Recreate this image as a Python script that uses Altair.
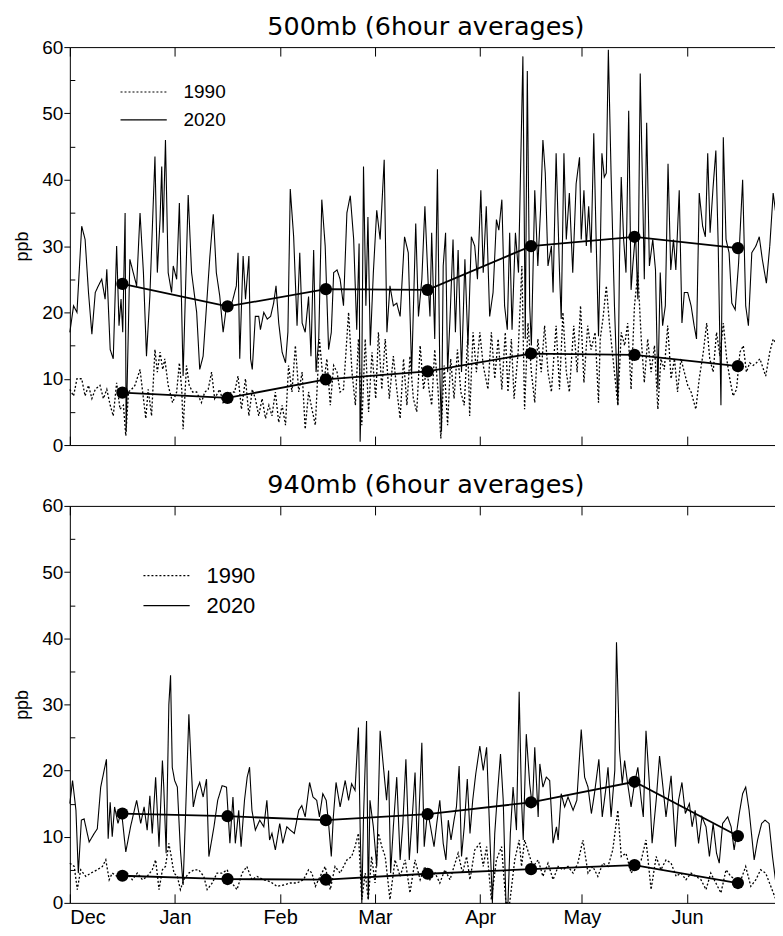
import altair as alt
import pandas as pd

FONT = "Liberation Sans"
TITLE_FONT = "DejaVu Sans"

MONTH_LABELS = ["Dec", "Jan", "Feb", "Mar", "Apr", "May", "Jun"]
MONTH_START_DAY = [0, 31, 62, 90, 121, 151, 182]
X_DOMAIN = [0, 210]
Y_TICKS = [0, 10, 20, 30, 40, 50, 60]
Y_MINOR = [5, 15, 25, 35, 45, 55]
YEARS = ["1990", "2020"]

# monthly means (dots)
MEAN_DAY = [15.5, 46.5, 75.5, 105.5, 136, 166.5, 197]
TOP_MEAN_2020 = [24.3, 20.9, 23.5, 23.4, 30.0, 31.4, 29.7]
TOP_MEAN_1990 = [7.9, 7.1, 9.9, 11.1, 13.8, 13.6, 11.9]
BOT_MEAN_2020 = [13.5, 13.1, 12.5, 13.4, 15.2, 18.3, 10.1]
BOT_MEAN_1990 = [4.1, 3.6, 3.5, 4.4, 5.1, 5.7, 3.0]

# 500mb series: (day since Dec 1, ppb)
TOP_2020 = [(0,17),(1.1,21),(2.1,20),(3.5,33),(4.5,31),(5.5,23),(6.5,16.7),(7.5,23),(8.4,24),(9.4,25),(10.4,22),(10.9,26.5),(11.9,14.4),(12.8,13),(13.8,30),(14.5,18),(15.1,22),(15.6,17),(16.3,35),(16.6,2),(17.7,28),(18.7,26),(19.7,24),(20.7,35),(21.7,26),(22.6,13.4),(23.6,22.5),(25.1,43.5),(25.8,26),(26.6,34),(27.1,42),(27.5,32),(28.2,46),(29,26),(30,23),(30.5,27),(31.5,25),(32.3,36.5),(33.4,10.4),(34.9,37.7),(35.9,26),(37.4,20),(38.3,11.4),(39.3,13.4),(41.3,28.5),(42.3,34.8),(43.2,26),(44.2,22.5),(45.2,17),(46.2,21),(47.2,20.5),(48.1,22),(49.1,24),(49.6,29),(50.1,13),(51.1,28.5),(51.8,22),(52.8,28.5),(53.3,13),(53.8,11.4),(54.7,19.4),(55.7,19.4),(56.2,17.4),(57.2,20),(58.2,19),(59.2,19.4),(60.1,21.4),(60.8,24),(61.6,18.4),(62.6,14),(63.6,12.4),(64.3,17),(65,38.6),(66,31.4),(67,18),(67.8,29),(68.5,18.4),(69.4,17),(70.4,22.4),(71.1,13.4),(71.9,29.4),(72.6,11),(73.4,16),(74.3,37),(75.3,30),(76.3,14.4),(77.1,17),(77.8,26),(78.8,26.4),(79.7,25),(80.7,21),(81.7,35),(82.7,37.6),(83.7,31),(84.6,17.4),(85.3,30.4),(85.6,0.5),(86.1,11),(86.6,42),(87.3,21),(87.9,34.4),(88.6,15),(89.5,26),(90.5,35.4),(91.5,31),(92.7,43),(93.5,17),(94.4,24),(95.4,21),(96.4,21.4),(97.4,19.4),(98.7,31.4),(99.8,29),(100.8,11),(102,33.4),(102.8,19.4),(103.8,25),(104.7,36),(105.7,24),(106.2,19.4),(106.7,32),(107.6,16),(108.4,41.6),(109.1,11),(109.6,2),(110.1,27),(110.8,32),(111.4,11),(112.1,19),(113,31),(113.7,17),(114.5,29.4),(115.5,11),(116.5,28),(117.4,15),(118.4,31.4),(119.4,30),(120.2,25),(121.2,38.4),(121.9,26),(122.8,36),(123.8,19.4),(124.8,23),(125.8,34),(126.5,32.4),(127.4,37),(128.2,21),(129,17.4),(129.7,32),(130.4,17.4),(131.4,32),(132.3,26),(133.6,58.6),(134.3,16),(134.9,56.4),(135.6,21),(136.1,15),(137.1,38.4),(138,27),(138.8,35.4),(139.5,46),(140.2,41),(141,27),(142,30),(142.5,23),(143.4,44),(144.4,26),(144.9,19),(145.7,44),(146.4,31),(147.3,38),(148.3,26),(149.3,39.4),(150.3,43.4),(150.8,31),(151.6,38.4),(152.3,30),(153,36),(153.7,29),(154.5,47),(155.2,31),(155.9,16.4),(156.4,28.4),(156.9,44),(157.6,40.4),(158.2,41),(158.8,59.6),(159.6,41),(160.6,21),(161.6,6),(162.1,28.4),(162.6,40.4),(163.3,31),(164,26),(164.8,50.4),(165.5,23.4),(166,27),(166.8,32),(167.5,22),(168.2,56),(169,36),(169.4,25),(170.1,48.6),(170.9,27),(171.9,31),(172.7,26.4),(173.4,8.4),(174.1,26),(174.8,18),(175.6,21),(176.4,42.4),(177.2,26.4),(178,31),(178.7,26.4),(179.7,38.4),(180.5,18.4),(181.2,23),(182.2,23),(183.2,21),(184.1,18),(184.8,16),(185.6,38),(186.6,33),(187.4,31.4),(188.1,44),(188.8,32),(189.7,39),(190.5,44.4),(191.2,30),(192,6),(192.7,46.4),(193.5,31),(194.4,29),(195.2,21.4),(196.2,20.4),(197.2,27.4),(198.4,40),(199.3,21),(200.1,18),(201.1,29),(202.3,30),(203.3,31.4),(204.2,28),(205.4,24.4),(206.4,30),(207.4,38),(208.4,34),(209.1,31),(210,39)]

TOP_1990 = [(0,8.4),(1.1,7.4),(2.1,10),(3.5,10),(4.5,7.4),(5.5,9),(6.5,7),(7.5,8.4),(8.9,9),(9.9,7),(10.9,8.4),(11.9,6),(12.8,4.4),(13.8,9.4),(14.8,5.4),(15.8,6),(16.5,1.4),(17.3,8),(18.2,8.4),(19.2,9),(20.7,11.4),(21.7,7),(22.4,4),(23.1,8.4),(24.1,4.4),(25.1,14.4),(25.8,11),(26.6,14),(27.4,11.4),(28,13),(29,9),(30.3,6.4),(31.5,8),(32.3,12.4),(33,8.4),(33.4,2.4),(34.4,12),(35.2,9),(36.2,8),(37.4,8),(38.8,6.4),(39.8,8),(40.8,8.4),(41.8,11),(42.7,7),(44.2,8.4),(45.2,6.4),(46.2,7),(47.6,8),(48.6,8),(49.6,10.4),(50.6,5.4),(51.8,10),(52.8,4.4),(53.8,8.4),(54.7,7),(55.7,4.4),(56.7,7),(57.7,4),(58.7,6),(59.6,4.4),(60.6,8),(61.6,3.4),(62.6,6),(63.6,3),(64.5,12),(65.5,8),(66.5,15),(67.5,8),(68.5,11),(69.4,2.4),(70.4,8),(71.4,5.4),(72.4,3),(73.6,16),(74.8,9),(75.8,13),(76.8,6),(77.8,12),(78.8,11),(79.7,8),(80.7,8.4),(82.2,20),(83.2,11),(84.2,6),(85.1,16),(86.1,3),(87.1,16),(88.1,5),(89.1,14),(90.2,7),(91,17),(92,8.4),(93,16),(94.2,7),(95.4,13.4),(96.4,8.4),(97.4,4),(98.4,13),(99.4,6),(100.3,13.4),(101.3,7),(102.3,5),(103.3,15),(104.3,8.4),(105.3,12),(105.9,8.4),(106.7,6),(107.6,14.4),(108.6,8),(109.4,1),(110.4,12),(111.4,3),(112.3,13),(113.3,7),(114.3,14.4),(115.3,8),(116.3,6),(117.3,16),(117.9,4.4),(118.9,17),(119.9,11),(120.9,17),(121.9,12),(123.3,8.4),(124.3,17),(125.3,10),(126.3,16),(127.4,8.4),(128.4,17),(129.2,8),(130.2,16),(131,7),(132.2,14),(133.3,27),(134.1,5.4),(135.1,18.4),(136.1,11),(137.1,6.4),(138,16),(139,11),(140,18),(141,11),(142,8),(143.4,18),(144.4,8.4),(145.4,20),(146.4,11),(147.3,8),(148.6,18),(149.6,11),(150.6,21),(151.6,9.4),(152.7,18),(153.7,14.4),(154.9,17),(155.9,6.4),(156.4,16),(157.2,19),(158.2,24),(159.1,18.4),(160.1,13.4),(161.6,6),(162.6,17),(163.6,15),(164.5,18.4),(165.5,8.4),(166.5,21),(167.5,26),(168.5,16),(169.4,9.4),(170.4,16),(171.4,11),(172.4,15),(173.4,5.4),(174.3,13),(175.3,11.4),(176.3,18),(177.3,10),(178.3,13),(179.2,8),(180.2,13),(181.2,11),(182.2,9),(183.2,8),(184.6,5.4),(185.6,10),(186.8,14),(187.8,18.4),(188.7,13),(189.7,11),(190.7,17),(191.7,13.4),(192.7,18.4),(193.7,13),(194.6,10),(195.6,7.4),(196.6,8.4),(197.6,14),(198.6,15),(199.5,11),(200.5,12.4),(201.5,12),(202.5,12.4),(203.5,13),(205.2,10.4),(206.4,14),(207.4,16),(208.7,15),(210,18)]

# 940mb series: (day since Dec 1, ppb)
BOT_2020 = [(0,15),(0.8,18.5),(1.8,14),(2.5,4.5),(3.4,12.5),(4.2,12.7),(5.7,9.2),(7.2,10.5),(8.1,11.2),(9.1,17.5),(10.1,20),(10.8,21.7),(11.3,9.7),(11.9,15.2),(12.5,10),(13.2,14.5),(14.2,12),(15.2,14),(16.5,7.7),(17.9,11.5),(19.7,15.5),(20.9,12),(21.9,14.5),(22.8,11),(23.6,16.2),(24.3,10.5),(25.3,19),(26.3,8.5),(27.3,21.5),(27.7,17.5),(28.4,7.5),(29.2,30),(29.7,34.4),(30.2,20.5),(30.9,18.5),(31.7,17.5),(32.6,8),(33.4,2.7),(34.1,13),(35.1,28.5),(35.8,20.5),(36.4,14.5),(37.4,17),(38.3,18.2),(39.3,16),(40.3,18.7),(41,7),(42.5,11.5),(43.6,15.5),(44.9,17.7),(46.2,17.5),(47.2,9),(48.1,16),(48.8,9),(49.8,14),(50.5,8.5),(51.5,15.5),(52.3,19),(53,20.5),(53.7,14),(54.7,11),(56,12.5),(57.2,11.5),(58.1,15.5),(58.9,9.5),(59.6,10.5),(60.6,8),(61.9,12),(62.8,9),(64,11.5),(65,11),(66.2,10.5),(67.5,14),(68.4,14.7),(69.4,13),(70.7,18.2),(71.7,16),(72.8,15.5),(73.6,13),(74.6,16.5),(75.6,15.5),(76.3,12),(77.1,7),(77.7,13),(78.5,18.2),(79.7,14.5),(81.2,18.5),(82.2,15.5),(83.1,18),(84.1,17),(85.1,26.5),(85.6,11.5),(86.1,0),(86.6,13),(87.5,27.5),(88,0.5),(88.5,15.5),(89.5,11.5),(90.5,5.5),(91.5,26),(92.3,21.5),(93.4,15.5),(94,20),(94.6,4.5),(95.4,11.5),(96.4,19),(97.4,6.5),(98.2,12),(99.1,21.7),(100.1,6.5),(101.1,14),(101.8,19.7),(102.5,7.5),(103.8,24.2),(104.5,8.5),(105.5,14),(106.7,10.5),(107.4,8.5),(108.2,12),(109.1,15.5),(110.1,9),(110.9,6.5),(111.6,12.5),(112.4,9.5),(113.3,12.5),(114,14.5),(114.8,20.7),(115.5,7),(116.3,11.5),(117.2,18.7),(118,10.5),(118.8,15.5),(119.7,19.5),(120.9,23.7),(121.9,20),(122.9,23.5),(123.9,9.5),(124.6,0),(125.3,10.5),(126.1,16.5),(127,22.5),(127.8,15.5),(128.6,0),(129.2,0),(129.9,10.5),(130.7,17.5),(131.7,11),(132.5,31.9),(133.2,15.5),(133.7,9.5),(134.6,25.5),(135.6,18),(136.4,14.5),(137.1,23.5),(138.1,13),(138.6,21),(139.5,17.5),(140.5,19),(141.5,18.5),(142.5,9),(143.5,11.5),(144,9.5),(144.9,16.5),(145.9,14.5),(146.9,16),(148.4,14),(149.5,15.5),(150.8,26.2),(151.8,19),(152.8,17.5),(153.8,13.5),(154.7,16.5),(156,21.7),(157,13),(158,17),(158.7,20.5),(159.6,13),(160.7,20),(161.2,39.4),(162.1,23),(162.9,18),(163.6,21.5),(164.5,18),(165.5,14.5),(166.5,18),(167.5,20.5),(168.5,15.5),(169.1,13),(169.9,26),(170.9,18),(171.7,9),(172.9,15.5),(173.9,22.2),(174.8,18),(175.8,13),(177.3,19.2),(178.6,8.5),(179.5,15.5),(180.5,18.2),(181.5,13.5),(182.7,15),(183.5,11.5),(184.4,14),(185.4,9),(186.4,13),(187.6,11.5),(188.6,7),(189.7,12),(190.7,7.5),(191.5,6),(192.5,12),(194,13),(195,11.5),(195.9,8),(197.4,13.5),(198.4,16.5),(199.3,17.5),(200.3,14),(201.8,6.5),(202.8,9.5),(204,12),(205,12.5),(206.2,12),(207.2,7),(208.7,1),(210,6.5)]

BOT_1990 = [(0,6),(1.3,5.5),(2.2,2),(3.2,5),(4.7,4),(6.2,4.5),(8.1,5),(9.6,5.5),(10.6,6.5),(11.6,3.5),(12.5,4.5),(14,4),(15.5,4.5),(17,4.5),(18.4,3.5),(19.9,4.5),(21.4,3.5),(22.8,4),(24.3,5),(25.3,6.5),(26.3,2),(27.3,5),(28.2,5.5),(29.2,9),(29.9,7),(30.7,4.5),(31.7,4),(32.6,2),(33.6,3.5),(35.1,4.5),(36.6,5),(38,5),(39.5,4),(40.5,2),(42,3),(43.4,4.5),(44.9,4.5),(46.4,5),(47.8,3),(49.3,2),(50.8,4.5),(52.2,5.5),(53.7,3.5),(55.2,4),(57.1,3.5),(59.1,3.2),(61.1,2.5),(63,2.7),(65,3),(67,3),(68.9,3.5),(70.4,5),(71.4,4.5),(72.4,2.5),(73.8,4),(75.3,5.5),(76.8,2),(78.2,5.5),(79.7,4.5),(81.7,6.5),(83.1,7),(84.1,8.5),(85.1,10.5),(86.1,0.5),(87.1,4.5),(88,0.5),(89,7),(90,3),(91,10.5),(92,8.5),(93,7),(94.4,0.5),(95.9,6.5),(97.4,4),(98.9,6.5),(100.3,1.5),(101.8,6.5),(103.3,3.5),(104.7,5.5),(106.2,3.5),(107.7,4.5),(109.1,3),(110.6,5),(112.1,3.5),(114.5,7.5),(115.8,4.5),(117,7),(118,3.5),(119.4,8),(120.9,9),(121.9,5.5),(122.9,8.5),(124.3,0.5),(125.8,6.5),(127.3,8.5),(128.6,0),(129.7,0),(131.2,6.5),(132.5,9.5),(133.2,5.5),(134.1,9.5),(135.6,7),(136.6,5.5),(138.1,6.5),(139.5,4),(141,6),(142.5,3.5),(144,5.5),(145.4,5),(146.9,5.5),(148.4,4.5),(149.8,6),(151.3,9.5),(152.8,4.5),(154.2,5.5),(155.7,4),(157.2,6),(158.7,5.5),(160.1,8),(161.6,14),(162.6,7),(164,7.5),(165.5,4.5),(167,5.5),(168.5,6.5),(169.9,9.5),(171.4,2),(172.9,7),(174.3,5),(175.8,6.5),(177.3,6),(178.8,4),(180.2,4.5),(181.7,3.5),(183.2,4.5),(184.6,4),(186.1,3.5),(187.6,2),(189,4.5),(190.5,3),(192,1.5),(193.5,5),(194.9,4),(196.4,3.5),(197.9,3.5),(199.3,5.5),(200.8,2.5),(202.3,3.5),(203.7,5),(205.2,4.5),(206.7,2.5),(208.2,0.5),(209.6,2.5)]

LABEL_EXPR = ("[" + ",".join("'%s'" % m for m in MONTH_LABELS) + "][indexof(["
              + ",".join(str(d) for d in MONTH_START_DAY) + "], datum.value)]")


def make_panel(title, s2020, s1990, m2020, m1990, show_months, legend_x, legend_y,
               legend_font, height):
    d2020 = pd.DataFrame(s2020, columns=["day", "ppb"]).assign(year="2020")
    d1990 = pd.DataFrame(s1990, columns=["day", "ppb"]).assign(year="1990")
    means = pd.DataFrame({
        "day": MEAN_DAY + MEAN_DAY,
        "ppb": m2020 + m1990,
        "year": ["2020"] * len(MEAN_DAY) + ["1990"] * len(MEAN_DAY),
    })

    xs = alt.Scale(domain=X_DOMAIN, nice=False, zero=False)
    ys = alt.Scale(domain=[0, 60], nice=False)
    dash_scale = alt.Scale(domain=YEARS, range=[[2, 2], [1, 0]])
    legend = alt.Legend(
        title=None, orient="none", legendX=legend_x, legendY=legend_y,
        symbolType="stroke", symbolSize=2150, symbolStrokeWidth=1.2,
        symbolStrokeColor="black", labelFontSize=legend_font, labelFont=FONT,
        labelColor="black", clipHeight=20, rowPadding=8, labelOffset=16,
    )

    x_bottom = alt.X("day:Q", scale=xs, title=None, axis=alt.Axis(
        orient="bottom", values=MONTH_START_DAY, labelExpr=LABEL_EXPR,
        labels=show_months, ticks=False, tickSize=0, domain=True,
        domainColor="black", labelFontSize=20, labelFont=FONT,
        labelColor="black", labelPadding=5, labelFlush=True, grid=False))
    x_bottom_ticks = alt.X("day:Q", scale=xs, title=None, axis=alt.Axis(
        orient="bottom", values=MONTH_START_DAY, labels=False, domain=False,
        ticks=True, tickSize=9, offset=-9, tickColor="black", grid=False))
    x_top = alt.X("day:Q", scale=xs, title=None, axis=alt.Axis(
        orient="top", values=MONTH_START_DAY, labels=False, ticks=False,
        tickSize=0, domain=True, domainColor="black", grid=False))
    x_top_ticks = alt.X("day:Q", scale=xs, title=None, axis=alt.Axis(
        orient="top", values=MONTH_START_DAY, labels=False, domain=False,
        ticks=True, tickSize=9, offset=-9, tickColor="black", grid=False))

    y_main = alt.Y("ppb:Q", scale=ys, title="ppb", axis=alt.Axis(
        orient="left", values=Y_TICKS, tickSize=6, tickColor="black",
        labelPadding=1, labelFontSize=19, labelFont=FONT, labelColor="black",
        domain=True, domainColor="black", titleFontSize=18, titleFont=FONT,
        titleFontWeight="normal", titleColor="black", titlePadding=10, grid=False))
    y_minor = alt.Y("ppb:Q", scale=ys, title=None, axis=alt.Axis(
        orient="left", values=Y_MINOR, tickSize=5, offset=-5, labels=False,
        domain=False, tickColor="black", grid=False))
    y_right = alt.Y("ppb:Q", scale=ys, title=None, axis=alt.Axis(
        orient="right", values=Y_TICKS[1:-1], tickSize=3, offset=-3,
        labels=False, domain=False, tickColor="black", grid=False))
    y_plain = alt.Y("ppb:Q", scale=ys, axis=None)

    line2020 = alt.Chart(d2020).mark_line(color="black", strokeWidth=1.1).encode(
        x=x_bottom, y=y_main,
        strokeDash=alt.StrokeDash("year:N", scale=dash_scale, legend=legend))
    line1990 = alt.Chart(d1990).mark_line(color="black", strokeWidth=1.3).encode(
        x=x_bottom_ticks, y=y_minor,
        strokeDash=alt.StrokeDash("year:N", scale=dash_scale, legend=legend))
    mean_line = alt.Chart(means).mark_line(color="black", strokeWidth=1.8).encode(
        x=x_top, y=y_right, detail="year:N")
    mean_pts = alt.Chart(means).mark_circle(color="black", size=150, opacity=1).encode(
        x=x_top_ticks, y=y_plain)

    return alt.layer(line2020, line1990, mean_line, mean_pts).resolve_axis(
        x="independent", y="independent"
    ).properties(
        width=714, height=height,
        title=alt.TitleParams(title, fontSize=25.5, font=TITLE_FONT,
                              fontWeight="normal", color="black",
                              anchor="middle", offset=-2),
    )


top = make_panel("500mb (6hour averages)", TOP_2020, TOP_1990, TOP_MEAN_2020,
                 TOP_MEAN_1990, False, 50, 35, 19, 399)
bottom = make_panel("940mb (6hour averages)", BOT_2020, BOT_1990, BOT_MEAN_2020,
                    BOT_MEAN_1990, True, 73, 60, 22, 398)

chart = alt.vconcat(top, bottom, spacing=18).resolve_scale(
    strokeDash="independent"
).resolve_legend(
    strokeDash="independent"
).properties(
    padding={"left": 5, "top": 5, "right": -10, "bottom": 0}
).configure(font=FONT).configure_view(stroke=None)

chart.save("out.html", embed_options={"renderer": "svg", "actions": False})
